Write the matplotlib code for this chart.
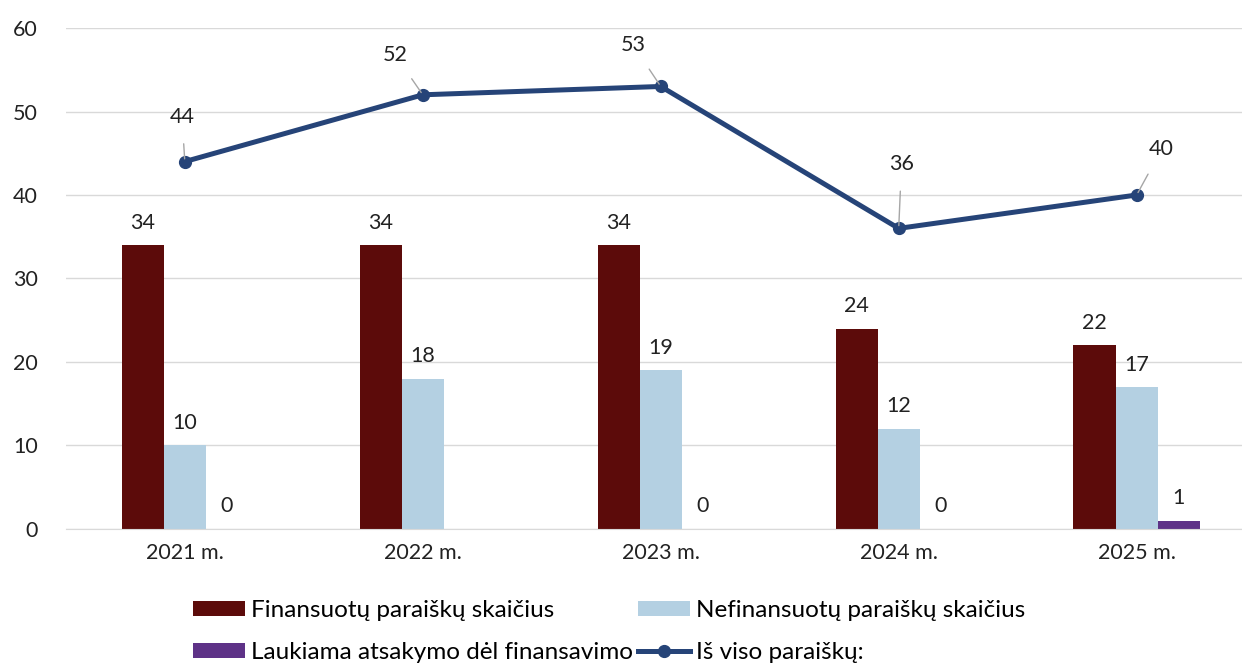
import numpy as np
import matplotlib
matplotlib.use("Agg")
import matplotlib.pyplot as plt

plt.rcParams['font.family'] = ['Lato', 'DejaVu Sans']

# data
years = ['2021 m.', '2022 m.', '2023 m.', '2024 m.', '2025 m.']
funded = [34, 34, 34, 24, 22]
unfunded = [10, 18, 19, 12, 17]
waiting = [0, None, 0, 0, 1]   # 2022 has no value shown
total = [44, 52, 53, 36, 40]

lbl_funded = 'Finansuotų paraiškų skaičius'
lbl_unfunded = 'Nefinansuotų paraiškų skaičius'
lbl_waiting = 'Laukiama atsakymo dėl finansavimo'
lbl_total = 'Iš viso paraiškų:'

c_funded = '#5C0B0A'
c_unfunded = '#B4D0E2'
c_waiting = '#5E3287'
c_total = '#264478'

fig = plt.figure(figsize=(12.42, 6.67), dpi=100)
ax = fig.add_axes([0.053, 0.207, 0.958, 0.751])

x = np.arange(len(years))
w = 0.177
waiting_h = [0 if v is None else v for v in waiting]
b1 = ax.bar(x - w, funded, w, color=c_funded, label=lbl_funded, zorder=2)
b2 = ax.bar(x, unfunded, w, color=c_unfunded, label=lbl_unfunded, zorder=2)
b3 = ax.bar(x + w, waiting_h, w, color=c_waiting, label=lbl_waiting, zorder=2)
ln, = ax.plot(x, total, color=c_total, lw=3.6, marker='o', markersize=8.5,
              label=lbl_total, zorder=4)

fs = 15.5
for bars, vals in ((b1, funded), (b2, unfunded), (b3, waiting)):
    for b, v in zip(bars, vals):
        if v is None:
            continue
        ax.annotate(str(v), (b.get_x() + b.get_width() / 2, v),
                    xytext=(0, 9), textcoords='offset points',
                    ha='center', va='bottom', fontsize=fs, color='#222222')

# label offsets for line points (in points)
offs = [(-2, 32), (-20, 29), (-20, 30), (2, 46), (18, 33)]
for xi, v, (dx, dy) in zip(x, total, offs):
    ax.annotate(str(v), (xi, v), xytext=(dx, dy), textcoords='offset points',
                ha='center', va='center', fontsize=fs, color='#222222',
                arrowprops=dict(arrowstyle='-', color='#A6A6A6', lw=1,
                                shrinkA=10, shrinkB=2), zorder=5)

ax.set_xlim(-0.5, 4.5)
ax.set_ylim(0, 60)
ax.set_yticks(range(0, 61, 10))
ax.set_xticks(x)
ax.set_xticklabels(years)
ax.tick_params(axis='both', length=0, labelsize=fs, colors='#222222')
ax.tick_params(axis='y', pad=20)
ax.tick_params(axis='x', pad=10)
ax.grid(axis='y', color='#D9D9D9', lw=1, zorder=0)
for s in ('top', 'right', 'left'):
    ax.spines[s].set_visible(False)
ax.spines['bottom'].set_color('#D9D9D9')

# row-major order: legend fills column by column
fig.legend([b1, b3, b2, ln], [lbl_funded, lbl_waiting, lbl_unfunded, lbl_total],
           loc='upper left', bbox_to_anchor=(0.155, 0.1), ncol=2,
           frameon=False, fontsize=17.5, handlelength=2.15, handleheight=0.6,
           handletextpad=0.25, columnspacing=0.2, labelspacing=0.85,
           borderaxespad=0, borderpad=0)

fig.savefig('out.png', dpi=100)
